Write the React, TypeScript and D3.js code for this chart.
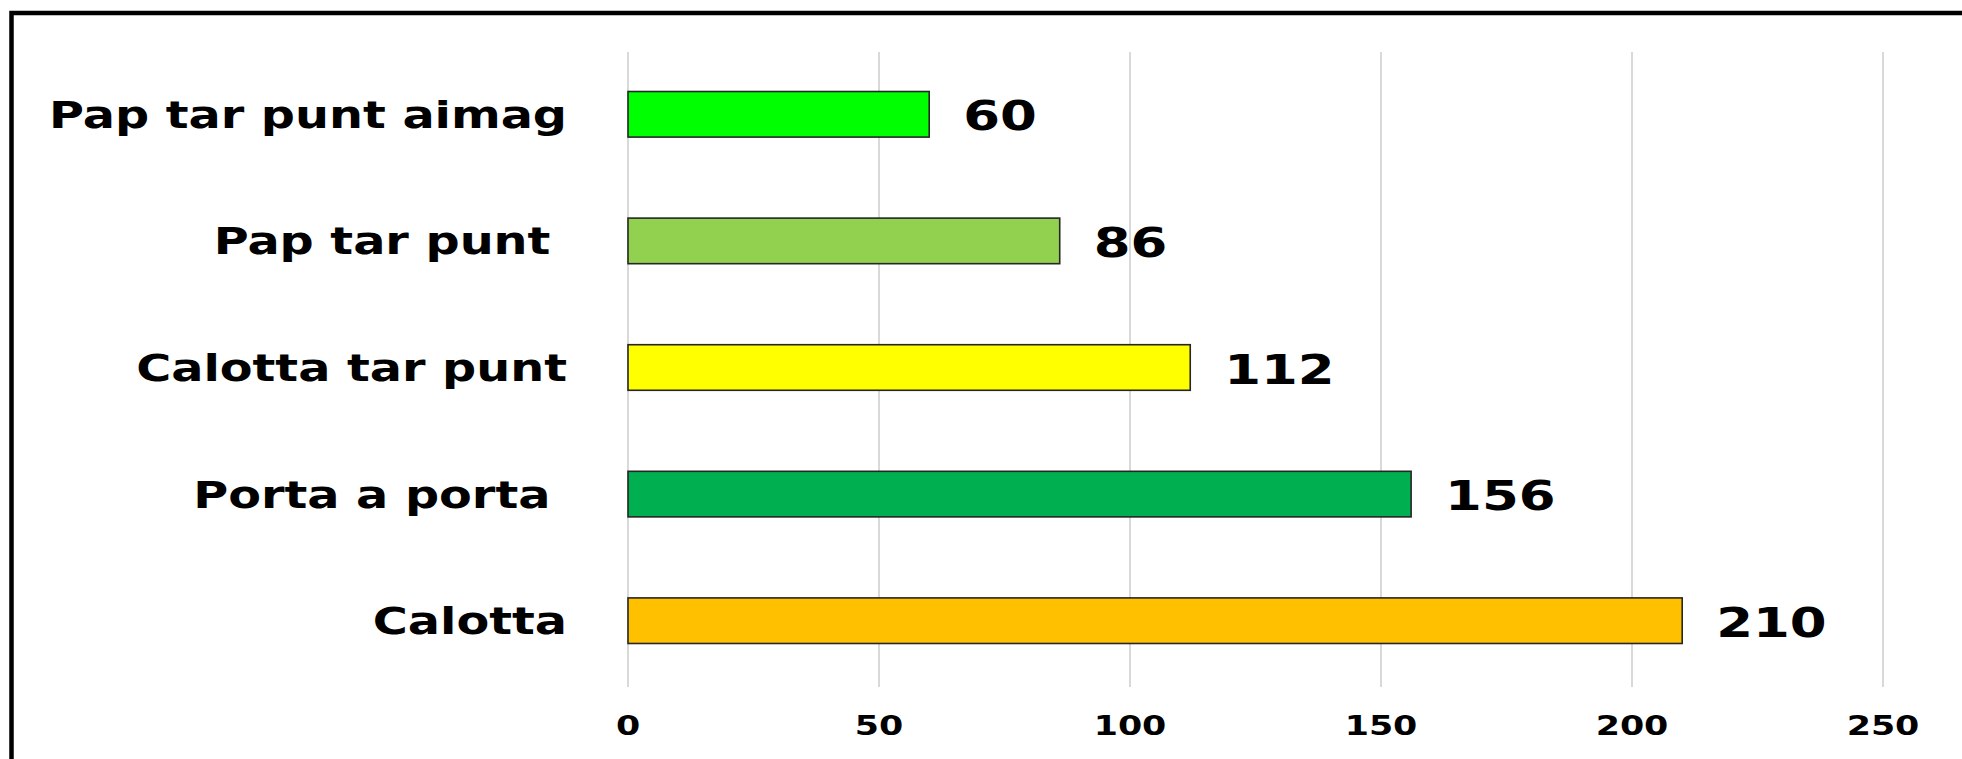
import React from "react";
import * as d3 from "d3";

const categories = ["Pap tar punt aimag", "Pap tar punt ", "Calotta tar punt", "Porta a porta ", "Calotta"];
const values = [60, 86, 112, 156, 210];
const colors = ["#00FF00", "#92D050", "#FFFF00", "#00B050", "#FFC000"];
const xTicks = [0, 50, 100, 150, 200, 250];

const W = 1962;
const H = 759;
const FONT = "'DejaVu Sans', Verdana, sans-serif";
const SX = 1.29;

export default function App() {
  const x = d3.scaleLinear().domain([0, 250]).range([628, 1883]);
  const y = d3.scaleBand<string>().domain(categories).range([51, 684]).paddingInner(0.64).paddingOuter(0.32);
  const bw = y.bandwidth();

  return (
    <div style={{ position: "absolute", left: 0, top: 0, width: W, height: H, overflow: "hidden", background: "#fff" }}>
      <svg width={W} height={H} style={{ display: "block" }}>
        <rect x={0} y={0} width={W} height={H} fill="#fff" />
        <rect x={11.5} y={13} width={W + 20} height={H + 20} fill="none" stroke="#000" strokeWidth={4.5} />
        {xTicks.map((t) => (
          <line key={"g" + t} x1={x(t)} x2={x(t)} y1={52} y2={687} stroke="#D9D9D9" strokeWidth={2} />
        ))}
        {categories.map((c, i) => (
          <rect
            key={"b" + i}
            x={x(0)}
            y={y(c)!}
            width={x(values[i]) - x(0)}
            height={bw}
            fill={colors[i]}
            stroke="#262626"
            strokeWidth={1.6}
          />
        ))}
        {categories.map((c, i) => (
          <g key={"l" + i} transform={`translate(567,${y(c)! + bw / 2 + 13.5}) scale(${SX},1)`}>
            <text
              x={0}
              y={0}
              textAnchor="end"
              fontFamily={FONT}
              fontWeight="bold"
              fontSize={37}
              fill="#000"
              style={{ whiteSpace: "pre" }}
            >
              {c}
            </text>
          </g>
        ))}
        {categories.map((c, i) => (
          <g key={"v" + i} transform={`translate(${x(values[i]) + 34},${y(c)! + bw / 2 + 16}) scale(${SX},1)`}>
            <text x={0} y={0} textAnchor="start" fontFamily={FONT} fontWeight="bold" fontSize={41} fill="#000">
              {values[i]}
            </text>
          </g>
        ))}
        {xTicks.map((t) => (
          <g key={"t" + t} transform={`translate(${x(t)},735) scale(${SX},1)`}>
            <text x={0} y={0} textAnchor="middle" fontFamily={FONT} fontWeight="bold" fontSize={27} fill="#000">
              {t}
            </text>
          </g>
        ))}
      </svg>
    </div>
  );
}
